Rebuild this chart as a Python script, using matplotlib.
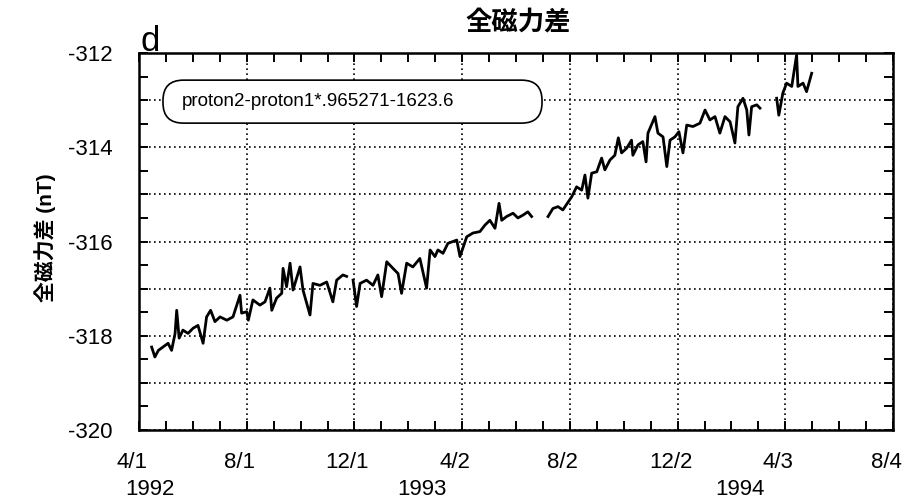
import numpy as np
import matplotlib
matplotlib.use('Agg')
import matplotlib.pyplot as plt
import matplotlib.transforms as mtransforms
from matplotlib.patches import FancyBboxPatch
from matplotlib.ticker import MultipleLocator

plt.rcParams['font.family'] = ['Liberation Sans', 'Noto Sans CJK JP']

# months since 4/1 1992, NaN marks a gap in the record
months = [0.47, 0.59, 0.72, 0.89, 1.08, 1.21, 1.34, 1.40, 1.49, 1.63, 1.82, 2.01, 2.19, 2.38,
          2.51, 2.66, 2.82, 3.01, 3.26, 3.49, 3.75, 3.81, 4.00, 4.06, 4.23, 4.49, 4.68, 4.86,
          4.93, 5.11, 5.30, 5.35, 5.48, 5.61, 5.72, 5.98, 6.09, 6.35, 6.46, 6.72, 6.97, 7.20,
          7.34, 7.57, 7.71, np.nan,
          7.95, 8.08, 8.21, 8.45, 8.69, 8.87, 9.01, 9.20, 9.43, 9.62, 9.75, 9.94, 10.17, 10.43,
          10.68, 10.81, 10.99, 11.10, 11.29, 11.47, 11.80, 11.92, 12.17, 12.40, 12.66, 12.85,
          13.03, 13.22, 13.37, 13.47, 13.65, 13.89, 14.07, 14.26, 14.44, 14.58, np.nan,
          15.19, 15.37, 15.56, 15.74, 16.07, 16.25, 16.44, 16.56, 16.67, 16.81, 17.00, 17.18,
          17.30, 17.49, 17.67, 17.80, 17.92, 18.11, 18.29, 18.34, 18.53, 18.71, 18.83, 18.90,
          19.16, 19.27, 19.46, 19.60, 19.72, 19.90, 20.05, 20.20, 20.34, 20.57, 20.83, 21.02,
          21.20, 21.39, 21.57, 21.76, 21.95, 22.13, 22.24, 22.43, 22.57, 22.65, 22.75, 22.94,
          23.06, np.nan,
          23.68, 23.76, 23.91, 24.05, 24.24, 24.42, 24.47, 24.66, 24.79, 24.98]
diff_nt = [-318.24, -318.45, -318.31, -318.24, -318.16, -318.31, -317.95, -317.46, -318.05,
           -317.88, -317.95, -317.84, -317.78, -318.16, -317.60, -317.46, -317.70, -317.60,
           -317.67, -317.60, -317.14, -317.52, -317.49, -317.67, -317.24, -317.35, -317.28,
           -316.99, -317.46, -317.20, -317.10, -316.57, -316.96, -316.46, -317.03, -316.54,
           -317.03, -317.56, -316.89, -316.93, -316.86, -317.28, -316.82, -316.71, -316.74, np.nan,
           -316.82, -317.38, -316.89, -316.82, -316.93, -316.71, -317.17, -316.43, -316.57,
           -316.68, -317.10, -316.46, -316.54, -316.36, -316.99, -316.18, -316.32, -316.18,
           -316.25, -316.04, -315.97, -316.32, -315.90, -315.82, -315.79, -315.65, -315.55,
           -315.72, -315.19, -315.55, -315.47, -315.40, -315.50, -315.44, -315.37, -315.47, np.nan,
           -315.47, -315.30, -315.26, -315.33, -315.05, -314.84, -314.91, -314.59, -315.08,
           -314.55, -314.52, -314.23, -314.48, -314.27, -314.17, -313.80, -314.12, -314.02,
           -313.85, -314.17, -313.95, -313.88, -314.31, -313.70, -313.35, -313.70, -313.78,
           -314.41, -313.85, -313.78, -313.67, -314.12, -313.53, -313.56, -313.49, -313.21,
           -313.42, -313.35, -313.70, -313.35, -313.46, -313.91, -313.14, -312.96, -313.21,
           -313.74, -313.14, -313.10, -313.17, np.nan,
           -312.96, -313.32, -312.85, -312.64, -312.71, -312.04, -312.71, -312.64, -312.82,
           -312.43]

tick_months = [0, 4, 8, 12, 16, 20, 24, 28]
tick_labels = ['4/1', '8/1', '12/1', '4/2', '8/2', '12/2', '4/3', '8/4']
year_pos = [0.41, 10.5, 22.3]
year_labels = ['1992', '1993', '1994']
y_ticks = [-320, -319, -318, -317, -316, -315, -314, -313, -312]

fig = plt.figure(figsize=(9.1, 5.03), dpi=100)
ax = fig.add_axes([139 / 910, 1 - 430 / 503, 754 / 910, 377 / 503])

ax.plot(months, diff_nt, color='black', lw=2.0)

ax.set_xlim(0, 28)
ax.set_ylim(-320, -312)
ax.set_xticks(tick_months)
ax.set_xticklabels(tick_labels)
ax.xaxis.set_minor_locator(MultipleLocator(1))
ax.set_yticks(y_ticks)
ax.set_yticklabels([str(v) if v % 2 == 0 else '' for v in y_ticks])
ax.yaxis.set_minor_locator(MultipleLocator(0.5))

ax.grid(True, which='major', color='black', linestyle=(0, (1, 2)), lw=1.2)
ax.tick_params(which='both', direction='in', top=True, right=True, length=6.5, width=1.4,
               color='black')
ax.tick_params(axis='x', labelsize=16, pad=16)
ax.tick_params(axis='y', labelsize=16, pad=19)
for s in ax.spines.values():
    s.set_linewidth(1.8)

shift = mtransforms.ScaledTranslation(-5 / 72, 0, fig.dpi_scale_trans)
for lab in ax.get_xticklabels():
    lab.set_transform(lab.get_transform() + shift)

for xp, yl in zip(year_pos, year_labels):
    ax.text(xp, -0.172, yl, transform=ax.get_xaxis_transform(), ha='center', va='baseline',
            fontsize=16)

# formula box
box = FancyBboxPatch((0.0318, 0.814), 0.5027, 0.114, transform=ax.transAxes,
                     boxstyle='round,pad=0,rounding_size=0.027', mutation_aspect=2,
                     facecolor='white', edgecolor='black', lw=1.2, zorder=3)
ax.add_patch(box)
ax.text(0.057, 0.871, 'proton2-proton1*.965271-1623.6', transform=ax.transAxes,
        ha='left', va='center', fontsize=13.5, zorder=4)

fig.text(518 / 910, 1 - 23 / 503, '全磁力差', ha='center', va='center', fontsize=19,
         fontweight='bold')
fig.text(141 / 910, 1 - 51 / 503, 'd', ha='left', va='baseline', fontsize=25)
fig.text(45 / 910, 1 - 238 / 503, '全磁力差 (nT)', ha='center', va='center', rotation=90,
         fontsize=15, fontweight='bold')

fig.savefig('out.png', dpi=100)
